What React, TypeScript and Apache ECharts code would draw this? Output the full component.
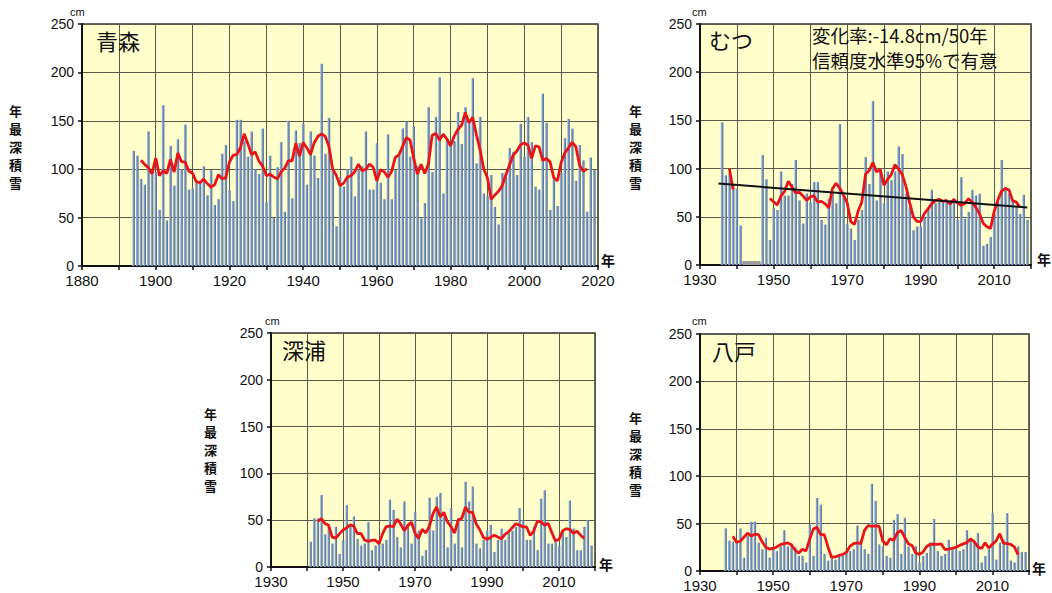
import React, { useEffect, useRef } from "react";
import * as echarts from "echarts";

// 年最深積雪 (cm) — annual maximum snow depth at four stations in Aomori prefecture

const aomoriStart = 1894;
const aomoriDepth = [
  119, 114, 90, 84, 139, 98, 97, 58, 166, 47, // 1894-1903
  124, 83, 131, 100, 146, 79, 80, 86, 88, 103, // 1904-1913
  73, 99, 63, 69, 116, 125, 78, 67, 151, 151, // 1914-1923
  129, 113, 139, 100, 95, 142, 66, 114, 50, 102, // 1924-1933
  128, 56, 150, 70, 140, 127, 147, 84, 139, 114, // 1934-1943
  91, 209, 116, 153, 100, 41, 92, 82, 100, 113, // 1944-1953
  72, 99, 103, 139, 79, 79, 127, 86, 69, 136, // 1954-1963
  69, 99, 115, 142, 149, 113, 144, 103, 49, 65, // 1964-1973
  164, 97, 154, 195, 75, 130, 127, 129, 159, 126, // 1974-1983
  164, 150, 194, 106, 154, 75, 72, 94, 61, 43, // 1984-1993
  96, 92, 122, 118, 94, 147, 113, 154, 128, 82, // 1994-2003
  79, 178, 148, 58, 92, 62, 96, 132, 152, 142, // 2004-2013
  88, 125, 109, 56, 112, 99, // 2014-2019
];

const mutsuStart = 1936;
const mutsuDepth: (number | null)[] = [
  148, 93, 95, 84, 79, 41, // 1936-1941
  null, null, null, null, null, // 1942-1946 欠測
  114, 89, 26, 59, 57, 97, 72, 72, 84, 109, // 1947-1956
  67, 43, 74, 65, 86, 86, 47, 42, 69, 74, // 1957-1966
  64, 146, 71, 43, 38, 26, 47, 57, 112, 84, // 1967-1976
  170, 67, 98, 64, 97, 88, 97, 123, 115, 74, // 1977-1986
  60, 36, 40, 40, 50, 59, 78, 64, 66, 67, // 1987-1996
  66, 67, 69, 47, 91, 48, 55, 78, 72, 74, // 1997-2006
  20, 22, 29, 53, 66, 109, 81, 74, 66, 60, // 2007-2016
  53, 73, 47, // 2017-2019
];
const mutsuMissingFrom = 1942;
const mutsuMissingTo = 1946;
const mutsuRatePer50y = -14.8;

const fukauraStart = 1941;
const fukauraDepth = [
  27, 52, 52, 77, 35, 43, 25, 43, 14, // 1941-1949
  29, 66, 46, 54, 30, 23, 25, 48, 18, 23, // 1950-1959
  29, 25, 29, 72, 61, 32, 21, 70, 46, 25, // 1960-1969
  59, 39, 12, 18, 74, 39, 75, 79, 54, 21, // 1970-1979
  63, 25, 52, 21, 91, 70, 86, 25, 20, 29, // 1980-1989
  39, 45, 16, 29, 41, 29, 36, 39, 43, 63, // 1990-1999
  50, 29, 29, 43, 18, 73, 82, 25, 25, 29, // 2000-2009
  23, 38, 32, 71, 41, 18, 18, 43, 50, 23, // 2010-2019
];

const hachinoheStart = 1937;
const hachinoheDepth = [
  45, 32, 31, // 1937-1939
  30, 45, 14, 37, 52, 52, 30, 23, 35, 14, // 1940-1949
  23, 21, 26, 43, 26, 28, 25, 16, 16, 9, // 1950-1959
  49, 16, 77, 70, 18, 11, 16, 12, 16, 19, // 1960-1969
  19, 21, 23, 48, 33, 23, 18, 92, 74, 28, // 1970-1979
  26, 16, 14, 54, 60, 18, 56, 26, 18, 26, // 1980-1989
  9, 16, 19, 30, 55, 21, 16, 18, 33, 25, // 1990-1999
  23, 21, 23, 43, 33, 30, 40, 9, 16, 23, // 2000-2009
  61, 12, 30, 33, 61, 11, 9, 26, 20, 20, // 2010-2019
];

const depthTicks = [0, 50, 100, 150, 200, 250];
const yearStep = 10;
const labelStep = 20;
const yearEnd = 2020;
const axisName = ["年", "最", "深", "積", "雪"];

const CJK = '"Noto Sans CJK JP", "Noto Sans CJK SC", sans-serif';
const LATIN = '"Liberation Sans", Arial, sans-serif';

type Panel = {
  title: string;
  start: number;
  values: (number | null)[];
  xMin: number;
  rect: { left: number; top: number; width: number; height: number };
  barWidth: number;
  titlePos: [number, number];
  cmPos: [number, number];
  nenPos: [number, number];
  namePos: [number, number];
};

const panels: Panel[] = [
  {
    title: "青森", start: aomoriStart, values: aomoriDepth, xMin: 1880,
    rect: { left: 82, top: 24, width: 516, height: 242 }, barWidth: 2.6,
    titlePos: [96, 29], cmPos: [70, 6], nenPos: [601, 253], namePos: [9, 104],
  },
  {
    title: "むつ", start: mutsuStart, values: mutsuDepth, xMin: 1930,
    rect: { left: 700, top: 24, width: 331, height: 241 }, barWidth: 2.6,
    titlePos: [709, 28], cmPos: [692, 6], nenPos: [1037, 252], namePos: [629, 104],
  },
  {
    title: "深浦", start: fukauraStart, values: fukauraDepth, xMin: 1930,
    rect: { left: 271, top: 333, width: 324, height: 234 }, barWidth: 2.5,
    titlePos: [282, 338], cmPos: [265, 315], nenPos: [599, 557], namePos: [204, 407],
  },
  {
    title: "八戸", start: hachinoheStart, values: hachinoheDepth, xMin: 1930,
    rect: { left: 700, top: 334, width: 329, height: 238 }, barWidth: 2.5,
    titlePos: [712, 339], cmPos: [692, 315], nenPos: [1032, 561], namePos: [629, 411],
  },
];

// centred 5-year running mean; a window touching a missing year gives no value
function runningMean(start: number, vals: (number | null)[], half = 2) {
  const out: [number, number | null][] = [];
  for (let i = half; i < vals.length - half; i++) {
    let sum = 0;
    let ok = true;
    for (let k = i - half; k <= i + half; k++) {
      const v = vals[k];
      if (v == null) { ok = false; break; }
      sum += v;
    }
    out.push([start + i, ok ? sum / (2 * half + 1) : null]);
  }
  return out;
}

// trend line with the stated rate, passing through the mean of the record
function trendLine(start: number, vals: (number | null)[], ratePer50: number) {
  const slope = ratePer50 / 50;
  let sx = 0, sy = 0, n = 0;
  vals.forEach((v, i) => {
    if (v != null) { sx += start + i; sy += v; n++; }
  });
  const mx = sx / n, my = sy / n;
  const x0 = start - 1;
  const x1 = start + vals.length - 1;
  return [
    [x0, my + slope * (x0 - mx)],
    [x1, my + slope * (x1 - mx)],
  ];
}

export default function App() {
  const ref = useRef<HTMLDivElement>(null);

  useEffect(() => {
    if (!ref.current) return;
    const chart = echarts.init(ref.current, undefined, { renderer: "svg" });

    const barColor = new echarts.graphic.LinearGradient(0, 0, 1, 0, [
      { offset: 0, color: "#b4c6df" },
      { offset: 0.4, color: "#7d98c0" },
      { offset: 1, color: "#4a6a98" },
    ]);

    const grids: any[] = [];
    const xAxes: any[] = [];
    const yAxes: any[] = [];
    const series: any[] = [];
    const graphics: any[] = [];

    panels.forEach((p, idx) => {
      grids.push({
        ...p.rect,
        show: true,
        backgroundColor: "#ffffcc",
        borderColor: "#333",
        borderWidth: 1.5,
        containLabel: false,
      });
      xAxes.push({
        type: "value",
        gridIndex: idx,
        min: p.xMin,
        max: yearEnd,
        interval: yearStep,
        axisLine: { show: true, lineStyle: { color: "#111", width: 2 } },
        axisTick: { show: true, length: 4, lineStyle: { color: "#111", width: 1.5 } },
        axisLabel: {
          color: "#111",
          fontFamily: LATIN,
          fontSize: 15,
          margin: 7,
          showMinLabel: true,
          showMaxLabel: true,
          formatter: (v: number) => ((v - p.xMin) % labelStep === 0 ? String(v) : ""),
        },
        splitLine: { show: true, lineStyle: { color: "#5a5a4a", width: 1 } },
      });
      yAxes.push({
        type: "value",
        gridIndex: idx,
        min: depthTicks[0],
        max: depthTicks[depthTicks.length - 1],
        interval: depthTicks[1] - depthTicks[0],
        axisLine: { show: true, lineStyle: { color: "#111", width: 2 } },
        axisTick: { show: true, length: 4, lineStyle: { color: "#111", width: 1.5 } },
        axisLabel: { color: "#111", fontFamily: LATIN, fontSize: 14, margin: 8 },
        splitLine: { show: true, lineStyle: { color: "#5a5a4a", width: 1 } },
      });

      const bars = p.values
        .map((v, i) => [p.start + i, v])
        .filter((d) => d[1] != null);

      const barSeries: any = {
        type: "bar",
        xAxisIndex: idx,
        yAxisIndex: idx,
        data: bars,
        barWidth: p.barWidth,
        itemStyle: { color: barColor },
        z: 2,
      };
      if (p.title === "むつ") {
        barSeries.markArea = {
          silent: true,
          itemStyle: { color: "#9a9a9a" },
          data: [[
            { coord: [mutsuMissingFrom - 0.5, 0] },
            { coord: [mutsuMissingTo + 0.5, 4] },
          ]],
        };
      }
      series.push(barSeries);

      series.push({
        type: "line",
        xAxisIndex: idx,
        yAxisIndex: idx,
        data: runningMean(p.start, p.values),
        showSymbol: false,
        connectNulls: false,
        lineStyle: { color: "#e8141b", width: 2.8 },
        z: 4,
      });

      if (p.title === "むつ") {
        series.push({
          type: "line",
          xAxisIndex: idx,
          yAxisIndex: idx,
          data: trendLine(p.start, p.values, mutsuRatePer50y),
          showSymbol: false,
          lineStyle: { color: "#111", width: 2 },
          z: 5,
        });
      }

      graphics.push(
        {
          type: "text", x: p.titlePos[0], y: p.titlePos[1], z: 10,
          style: { text: p.title, font: `22px ${CJK}`, fill: "#111" },
        },
        {
          type: "text", x: p.cmPos[0], y: p.cmPos[1],
          style: { text: "cm", font: `11px ${LATIN}`, fill: "#111" },
        },
        {
          type: "text", x: p.nenPos[0], y: p.nenPos[1],
          style: { text: "年", font: `bold 14px ${CJK}`, fill: "#111" },
        },
      );
      axisName.forEach((ch, k) => {
        graphics.push({
          type: "text",
          x: p.namePos[0],
          y: p.namePos[1] + k * 18,
          style: { text: ch, font: `bold 13px ${CJK}`, fill: "#111" },
        });
      });
    });

    graphics.push(
      {
        type: "text", x: 812, y: 26, z: 10,
        style: { text: "変化率:-14.8cm/50年", font: `18.5px ${CJK}`, fill: "#111" },
      },
      {
        type: "text", x: 812, y: 51, z: 10,
        style: { text: "信頼度水準95%で有意", font: `18.5px ${CJK}`, fill: "#111" },
      },
    );

    chart.setOption({
      animation: false,
      backgroundColor: "#ffffff",
      grid: grids,
      xAxis: xAxes,
      yAxis: yAxes,
      series,
      graphic: graphics,
    });

    return () => chart.dispose();
  }, []);

  return (
    <div
      ref={ref}
      style={{ position: "fixed", left: 0, top: 0, width: 1052, height: 593, background: "#fff" }}
    />
  );
}
